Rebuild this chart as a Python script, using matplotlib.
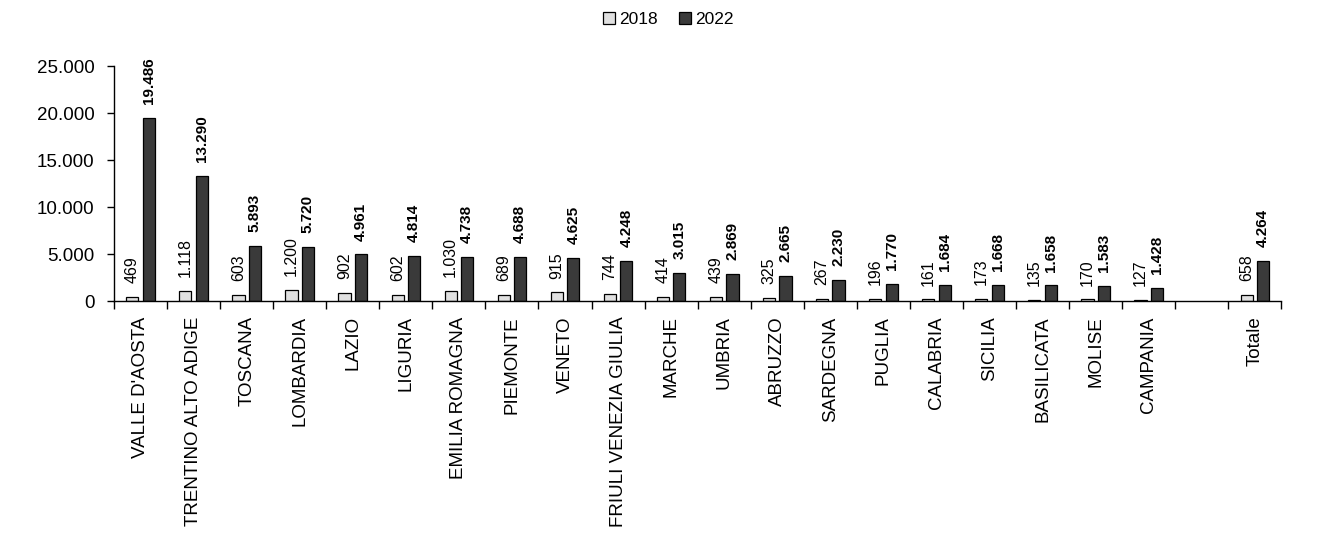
import numpy as np
import matplotlib.pyplot as plt
from matplotlib.ticker import FuncFormatter, FixedLocator

plt.rcParams['font.family'] = ['Liberation Sans', 'DejaVu Sans']

regions = ["VALLE D'AOSTA", "TRENTINO ALTO ADIGE", "TOSCANA", "LOMBARDIA", "LAZIO",
           "LIGURIA", "EMILIA ROMAGNA", "PIEMONTE", "VENETO", "FRIULI VENEZIA GIULIA",
           "MARCHE", "UMBRIA", "ABRUZZO", "SARDEGNA", "PUGLIA", "CALABRIA", "SICILIA",
           "BASILICATA", "MOLISE", "CAMPANIA", "", "Totale"]
v2018 = [469, 1118, 603, 1200, 902, 602, 1030, 689, 915, 744, 414, 439, 325, 267,
         196, 161, 173, 135, 170, 127, np.nan, 658]
v2022 = [19486, 13290, 5893, 5720, 4961, 4814, 4738, 4688, 4625, 4248, 3015, 2869,
         2665, 2230, 1770, 1684, 1668, 1658, 1583, 1428, np.nan, 4264]


def fmt(v):
    return f"{int(v):,}".replace(",", ".")


fig = plt.figure(figsize=(13.21, 5.38), dpi=100)
ax = fig.add_axes([0.0863, 0.4405, 0.8837, 0.4365])

x = np.arange(len(regions))
w = 0.23
off = 0.155
b1 = ax.bar(x - off, v2018, w, color='#e0e0e0', edgecolor='black', linewidth=0.9, label='2018')
b2 = ax.bar(x + off, v2022, w, color='#3a3a3a', edgecolor='black', linewidth=0.9, label='2022')

for xi, v in zip(x, v2018):
    if not np.isnan(v):
        ax.annotate(fmt(v), (xi - off, v), xytext=(0, 10), textcoords='offset points',
                    rotation=90, ha='center', va='bottom', fontsize=11.5)
for xi, v in zip(x, v2022):
    if not np.isnan(v):
        ax.annotate(fmt(v), (xi + off, v), xytext=(0, 10), textcoords='offset points',
                    rotation=90, ha='center', va='bottom', fontsize=11, fontweight='bold')

ax.set_xlim(-0.5, len(regions) - 0.5)
ax.set_ylim(0, 25000)
ax.set_yticks(range(0, 25001, 5000))
ax.yaxis.set_major_formatter(FuncFormatter(lambda v, p: fmt(v)))
ax.set_xticks(x)
ax.set_xticklabels(regions, rotation=90, fontsize=13.5)
ax.xaxis.set_minor_locator(FixedLocator(np.arange(-0.5, len(regions), 1.0)))
ax.tick_params(axis='x', which='major', length=0, pad=11)
ax.tick_params(axis='x', which='minor', length=6, width=1, direction='out')
ax.tick_params(axis='y', length=5, width=1, labelsize=13.5, pad=9)
for s in ['top', 'right']:
    ax.spines[s].set_visible(False)
for s in ['left', 'bottom']:
    ax.spines[s].set_linewidth(1)

fig.legend(handles=[b1, b2], loc='center', bbox_to_anchor=(0.506, 0.963), ncol=2,
           frameon=False, fontsize=12.5, handlelength=0.7, handleheight=0.7,
           handletextpad=0.25, columnspacing=1.2)

fig.savefig('out.png', dpi=100)
